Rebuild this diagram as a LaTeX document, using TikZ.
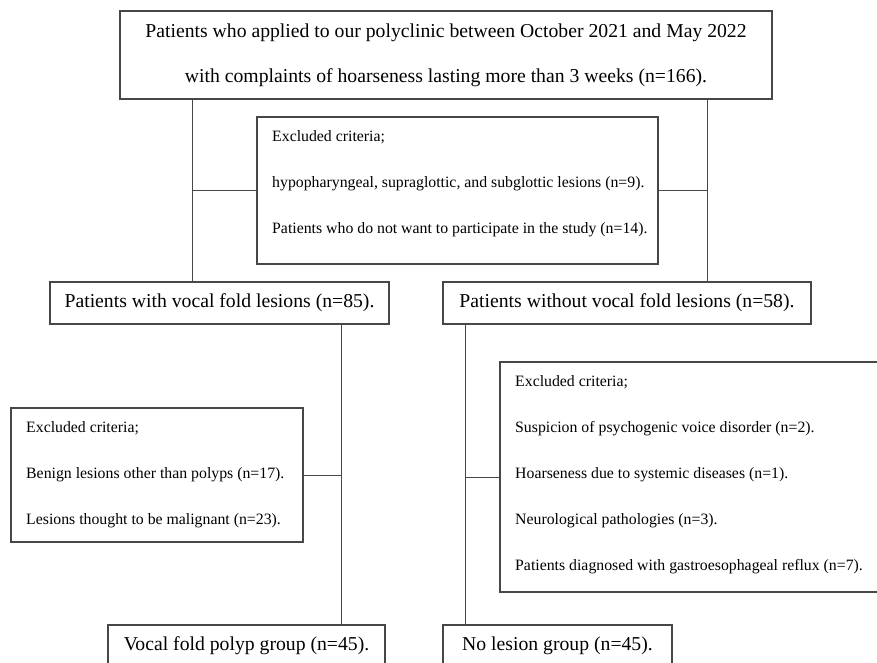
\documentclass[tikz,border=0pt]{standalone}
\usepackage{fontspec}
\setmainfont{Liberation Serif}
\definecolor{linegray}{rgb}{0.28,0.28,0.28}
\tikzset{
  x=1pt, y=-1pt,
  boxnode/.style={draw=linegray, line width=1.1pt, rectangle, inner sep=0pt, align=center},
  bigtext/.style={font=\fontsize{19.7}{45}\selectfont},
  smalltext/.style={font=\fontsize{15.8}{46}\selectfont, align=left, inner sep=0pt, anchor=north west},
  conn/.style={draw=linegray, line width=1pt}
}
\begin{document}
\begin{tikzpicture}
\useasboundingbox (0,0) rectangle (877,662);
\clip (0,0) rectangle (877,662);
% boxes
\node[boxnode, bigtext, minimum width=652pt, minimum height=88pt] (top) at (446,55)
  {Patients who applied to our polyclinic between October 2021 and May 2022\\with complaints of hoarseness lasting more than 3 weeks (n=166).};
\node[boxnode, minimum width=401pt, minimum height=147pt] (mid) at (457.5,190.5) {};
\node[smalltext] (midtxt) at (272,130)
  {Excluded criteria;\\hypopharyngeal, supraglottic, and subglottic lesions (n=9).\\Patients who do not want to participate in the study (n=14).};
\node[boxnode, bigtext, minimum width=339pt, minimum height=42pt] (r2l) at (219.5,303)
  {Patients with vocal fold lesions (n=85).};
\node[boxnode, bigtext, minimum width=368pt, minimum height=42pt] (r2r) at (627,303)
  {Patients without vocal fold lesions (n=58).};
\node[boxnode, minimum width=292pt, minimum height=134pt] (exl) at (157,475) {};
\node[smalltext] (exltxt) at (26,421)
  {Excluded criteria;\\Benign lesions other than polyps (n=17).\\Lesions thought to be malignant (n=23).};
\node[boxnode, minimum width=420pt, minimum height=230pt] (exr) at (710,477) {};
\node[smalltext] (exrtxt) at (515,375)
  {Excluded criteria;\\Suspicion of psychogenic voice disorder (n=2).\\Hoarseness due to systemic diseases (n=1).\\Neurological pathologies (n=3).\\Patients diagnosed with gastroesophageal reflux (n=7).};
\node[boxnode, bigtext, minimum width=277pt, minimum height=42pt] (bl) at (246.5,646)
  {Vocal fold polyp group (n=45).};
\node[boxnode, bigtext, minimum width=229pt, minimum height=42pt] (br) at (557.5,646)
  {No lesion group (n=45).};
% connector columns
\coordinate (cL) at (192,0);
\coordinate (cR) at (707,0);
\coordinate (cLL) at (341,0);
\coordinate (cRR) at (465,0);
% connectors
\draw[conn] (cL |- top.south) -- (cL |- r2l.north);
\draw[conn] (cR |- top.south) -- (cR |- r2r.north);
\draw[conn] (cL |- mid.west) -- (mid.west);
\draw[conn] (mid.east) -- (cR |- mid.east);
\draw[conn] (cLL |- r2l.south) -- (cLL |- bl.north);
\draw[conn] (cRR |- r2r.south) -- (cRR |- br.north);
\draw[conn] (exl.east) -- (cLL |- exl.east);
\draw[conn] (cRR |- exr.west) -- (exr.west);
\end{tikzpicture}
\end{document}
